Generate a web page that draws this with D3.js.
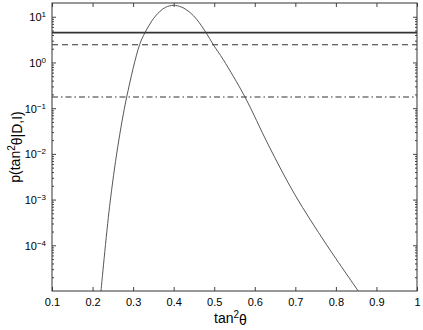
<!DOCTYPE html>
<html>
<head>
<meta charset="utf-8">
<script src="https://cdn.jsdelivr.net/npm/d3@7"></script>
<style>
  body { margin: 0; background: #fff; }
  svg { display: block; font-family: "Liberation Sans", Arial, sans-serif; }
</style>
</head>
<body>
<svg id="chart" width="423" height="330"></svg>
<script>
// posterior curve
const tanSq = [0.2208, 0.242, 0.262, 0.2842, 0.316, 0.3293, 0.3498, 0.3646, 0.38, 0.3991,
               0.42, 0.4402, 0.4567, 0.4797, 0.4977, 0.5223, 0.5758, 0.6333, 0.6991, 0.7773, 0.8552];
const prob = [1e-5, 7.1e-4, 1.4e-2, 0.176, 2.45, 4.5, 9.0, 12.7, 16.1, 17.8,
              16.2, 12.4, 8.8, 4.5, 2.45, 1.15, 0.176, 1.58e-2, 1.27e-3, 1.02e-4, 1e-5];

// horizontal reference levels
const levelSolid = 4.5;
const levelDashed = 2.45;
const levelDashDot = 0.176;

const xTicks = [0.1, 0.2, 0.3, 0.4, 0.5, 0.6, 0.7, 0.8, 0.9, 1];
const yExponents = [-4, -3, -2, -1, 0, 1];

const width = 423, height = 330;
const margin = {top: 3, right: 6, bottom: 39, left: 52};
const w = width - margin.left - margin.right;
const h = height - margin.top - margin.bottom;

const svg = d3.select('#chart');
const main = svg.append('g').attr('transform', `translate(${margin.left},${margin.top})`);

const x = d3.scaleLinear().domain([0.1, 1]).range([0, w]);
const y = d3.scaleLog().domain([1e-5, 20]).range([h, 0]);

// minor ticks 2..9 per decade
const minor = [];
for (let e = -5; e <= 1; e++) {
  for (let m = 2; m <= 9; m++) {
    const v = m * Math.pow(10, e);
    if (v < 20) minor.push(v);
  }
}
const major = yExponents.map(e => Math.pow(10, e));

main.append('defs').append('clipPath').attr('id', 'clip')
  .append('rect').attr('width', w).attr('height', h);

// axes
const xb = main.append('g').attr('transform', `translate(0,${h})`)
  .call(d3.axisBottom(x).tickValues(xTicks).tickSizeInner(-4).tickSizeOuter(0).tickPadding(7)
    .tickFormat(d => d === 1 ? '1' : d3.format('.1f')(d)));
main.append('g')
  .call(d3.axisTop(x).tickValues(xTicks).tickSizeInner(-4).tickSizeOuter(0).tickFormat(''));

const yl = main.append('g')
  .call(d3.axisLeft(y).tickValues(major).tickSizeInner(-4).tickSizeOuter(0).tickPadding(6).tickFormat(''));
main.append('g')
  .call(d3.axisLeft(y).tickValues(minor).tickSizeInner(-2).tickSizeOuter(0).tickFormat(''));
main.append('g').attr('transform', `translate(${w},0)`)
  .call(d3.axisRight(y).tickValues(major).tickSizeInner(-4).tickSizeOuter(0).tickFormat(''));
main.append('g').attr('transform', `translate(${w},0)`)
  .call(d3.axisRight(y).tickValues(minor).tickSizeInner(-2).tickSizeOuter(0).tickFormat(''));

main.selectAll('.domain').remove();
main.selectAll('.tick line').attr('stroke', '#444');
xb.selectAll('text').attr('font-size', 11).attr('fill', '#000').attr('font-family', 'Liberation Sans, Arial, sans-serif');

// y labels as 10 with superscript exponent
yl.selectAll('.tick').each(function(d) {
  const e = Math.round(Math.log10(d));
  const t = d3.select(this).append('text')
    .attr('x', -6).attr('dy', '0.35em')
    .attr('text-anchor', 'end').attr('fill', '#000')
    .attr('font-size', 11).attr('font-family', 'Liberation Sans, Arial, sans-serif');
  t.append('tspan').text('10');
  t.append('tspan').attr('dy', '-0.5em').attr('font-size', 8)
    .text(e < 0 ? '\u2212' + Math.abs(e) : e);
});

// reference lines
const levels = [
  {v: levelSolid, dash: null, sw: 1.6},
  {v: levelDashed, dash: '6,4', sw: 1.1},
  {v: levelDashDot, dash: '6,3,1.5,3', sw: 1.1}
];
main.selectAll('.level').data(levels).enter().append('line')
  .attr('x1', 0).attr('x2', w)
  .attr('y1', d => y(d.v)).attr('y2', d => y(d.v))
  .attr('stroke', '#333').attr('stroke-width', d => d.sw)
  .attr('stroke-dasharray', d => d.dash);

// curve
const pts = tanSq.map((t, i) => [t, prob[i]]);
main.append('path').datum(pts)
  .attr('clip-path', 'url(#clip)')
  .attr('fill', 'none').attr('stroke', '#444').attr('stroke-width', 0.9)
  .attr('d', d3.line().x(d => x(d[0])).y(d => y(d[1])).curve(d3.curveCatmullRom.alpha(0.5)));

// frame
main.append('rect').attr('width', w).attr('height', h)
  .attr('fill', 'none').attr('stroke', '#333').attr('stroke-width', 1);

// axis titles
const xt = svg.append('text')
  .attr('x', margin.left + w / 2 - 4).attr('y', 323)
  .attr('text-anchor', 'middle').attr('font-size', 14).attr('fill', '#000');
xt.append('tspan').text('tan');
xt.append('tspan').attr('dy', '-0.5em').attr('font-size', 10).text('2');
xt.append('tspan').attr('dy', '0.5em').text('\u03b8');

const yt = svg.append('text')
  .attr('transform', `translate(20,${margin.top + h / 2}) rotate(-90)`)
  .attr('text-anchor', 'middle').attr('font-size', 14).attr('fill', '#000');
yt.append('tspan').text('p(tan');
yt.append('tspan').attr('dy', '-0.5em').attr('font-size', 10).text('2');
yt.append('tspan').attr('dy', '0.5em').text('\u03b8|D,I)');
</script>
</body>
</html>
